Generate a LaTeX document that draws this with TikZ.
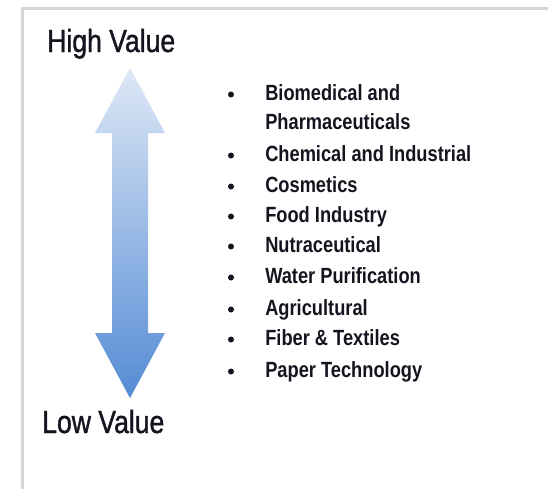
\documentclass[tikz,border=0pt]{standalone}
\usepackage{fontspec}
\setmainfont{Liberation Sans}[FakeStretch=0.83]
\newfontfamily\headfont{Liberation Sans}[FakeStretch=0.83, FakeBold=1.2]
\usepackage{xcolor}
\definecolor{FrameGray}{RGB}{214,214,214}
\definecolor{ArrowTop}{RGB}{222,232,246}
\definecolor{ArrowBottom}{RGB}{84,139,212}
\definecolor{InkDark}{RGB}{20,20,30}
\usetikzlibrary{positioning}

\tikzset{
  endlabel/.style={anchor=base west, inner sep=0pt, text=InkDark, font=\headfont\fontsize{24}{28}\selectfont},
  itemtext/.style={anchor=base west, inner sep=0pt, text=InkDark, font=\fontsize{16.5}{20}\selectfont\bfseries},
  bulletdot/.style={circle, fill=InkDark, inner sep=0pt, minimum size=4.5pt}
}

\begin{document}
\begin{tikzpicture}[x=0.75pt, y=-0.75pt]

  % Page size
  \useasboundingbox (0,0) rectangle (548,489);

  % Gray frame (open at right and bottom)
  \draw[FrameGray, line width=2.25pt]
        (22,489) -- (22,8) -- (548,8);

  % Gradient double arrow
  \shade[top color=ArrowTop, bottom color=ArrowBottom]
        (130,68) -- (165,133) -- (148,133) -- (148,333) -- (165,333)
        -- (130,398) -- (95,333) -- (112,333) -- (112,133) -- (95,133)
        -- cycle;

  % End labels
  \node[endlabel] (high) at (47,52) {High Value};
  \node[endlabel] (low)  at (42,433) {Low Value};

  % Bullet list
  \foreach \ypos/\txt [count=\i] in {
      100/Biomedical and,
      161/Chemical and Industrial,
      192/Cosmetics,
      222/Food Industry,
      252/Nutraceutical,
      283/Water Purification,
      315/Agricultural,
      345/Fiber \& Textiles,
      377/Paper Technology} {
    \node[bulletdot] (dot\i) at (231,\ypos-5.5) {};
    \node[itemtext] (item\i) at (265,\ypos) {\txt};
  }

  \node[itemtext] (item1b) at (265,129) {Pharmaceuticals};

\end{tikzpicture}
\end{document}
